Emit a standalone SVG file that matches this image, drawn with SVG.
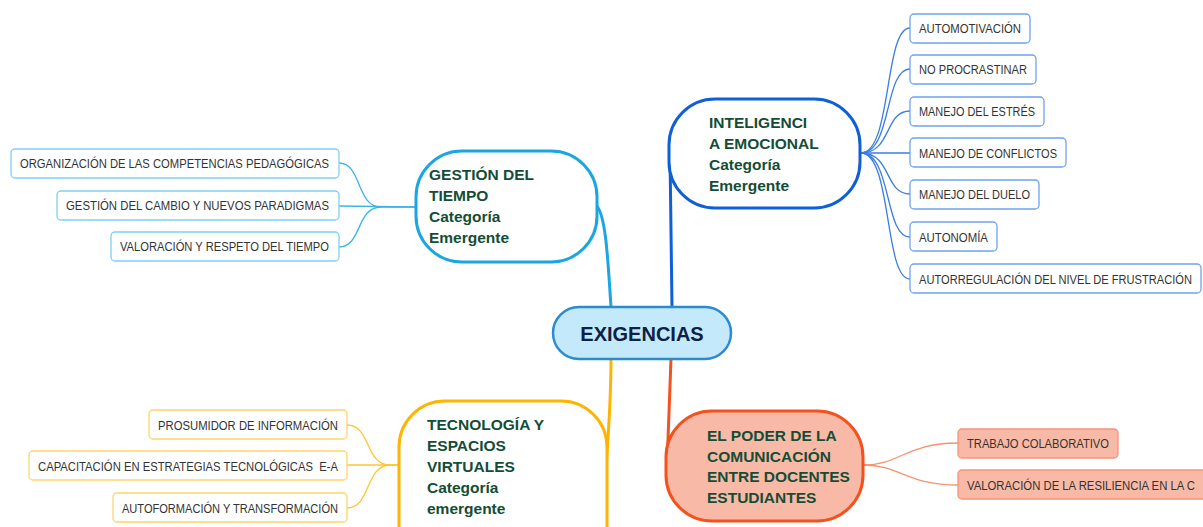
<svg xmlns="http://www.w3.org/2000/svg" width="1203" height="527" viewBox="0 0 1203 527">
<style>
.bg{fill:#ffffff}
.main{stroke-width:3}
.ntext{font-family:"Liberation Sans",Arial,sans-serif;font-size:15.5px;font-weight:bold;fill:#144d36}
.ctext{font-family:"Liberation Sans",Arial,sans-serif;font-size:12.5px;fill:#333333}
.pre{white-space:pre}
.leaf{stroke-width:1.3}
.conn{fill:none;stroke-width:1.3}
.trunk{fill:none;stroke-width:3;stroke-linecap:round}
</style>
<rect class="bg" x="0" y="0" width="1203" height="527"/>

<g id="connectors">
  <path class="trunk" stroke="#1aa6e1" d="M596,205 C606,214 608,262 611,307"/>
  <path class="trunk" stroke="#0f5fd6" d="M670,155 L672,307"/>
  <path class="trunk" stroke="#ffb400" d="M611,359 C611,400 608,440 606,468"/>
  <path class="trunk" stroke="#f4511e" d="M671,359 L667,466"/>
  <g stroke="#3db4e8">
    <path class="conn" d="M339,163 C362,163 356,207 381,207 L416,207"/>
    <path class="conn" d="M339,206 L416,207"/>
    <path class="conn" d="M339,247 C362,247 356,207 381,207"/>
  </g>
  <g stroke="#3a7ee0">
    <path class="conn" d="M861,153 C892,153 884,28 910,28"/>
    <path class="conn" d="M861,153 C892,153 884,69 910,69"/>
    <path class="conn" d="M861,153 C892,153 884,111 910,111"/>
    <path class="conn" d="M861,153 L910,153"/>
    <path class="conn" d="M861,153 C892,153 884,194 910,194"/>
    <path class="conn" d="M861,153 C892,153 884,237 910,237"/>
    <path class="conn" d="M861,153 C892,153 884,279 910,279"/>
  </g>
  <g stroke="#ffc533">
    <path class="conn" d="M347,425 C371,425 365,465 390,465 L399,465"/>
    <path class="conn" d="M347,465 L399,465"/>
    <path class="conn" d="M347,508 C371,508 365,465 390,465"/>
  </g>
  <g stroke="#f7916f">
    <path class="conn" d="M864,465 C900,465 906,443 958,443"/>
    <path class="conn" d="M864,465 C900,465 906,485 958,485"/>
  </g>
</g>

<g id="n-exigencias">
  <rect x="553" y="307" width="178" height="52" rx="26" fill="#c4e9fb" stroke="#2a8bd0" stroke-width="2.5"/>
  <text x="642" y="341" text-anchor="middle" font-family="Liberation Sans,Arial,sans-serif" font-size="20" font-weight="bold" fill="#0d2147">EXIGENCIAS</text>
</g>

<g id="n-gestion">
  <rect class="main" x="416" y="151" width="181" height="111" rx="46" fill="#ffffff" stroke="#1aa6e1"/>
  <text class="ntext" x="429" y="180">GESTIÓN DEL</text>
  <text class="ntext" x="429" y="201">TIEMPO</text>
  <text class="ntext" x="429" y="222">Categoría</text>
  <text class="ntext" x="429" y="243">Emergente</text>
</g>
<g id="g-c1">
  <rect class="leaf" x="11" y="149" width="328" height="29" rx="4" fill="#ffffff" stroke="#7fd0f2"/>
  <text class="ctext" x="20" y="168" textLength="309" lengthAdjust="spacingAndGlyphs">ORGANIZACIÓN DE LAS COMPETENCIAS PEDAGÓGICAS</text>
</g>
<g id="g-c2">
  <rect class="leaf" x="57" y="191" width="282" height="29" rx="4" fill="#ffffff" stroke="#7fd0f2"/>
  <text class="ctext" x="66" y="210" textLength="263" lengthAdjust="spacingAndGlyphs">GESTIÓN DEL CAMBIO Y NUEVOS PARADIGMAS</text>
</g>
<g id="g-c3">
  <rect class="leaf" x="111" y="232" width="228" height="29" rx="4" fill="#ffffff" stroke="#7fd0f2"/>
  <text class="ctext" x="120" y="251" textLength="209" lengthAdjust="spacingAndGlyphs">VALORACIÓN Y RESPETO DEL TIEMPO</text>
</g>

<g id="n-inteligencia">
  <rect class="main" x="669" y="99" width="191" height="109" rx="46" fill="#ffffff" stroke="#0f5fd6"/>
  <text class="ntext" x="709" y="128">INTELIGENCI</text>
  <text class="ntext" x="709" y="149">A EMOCIONAL</text>
  <text class="ntext" x="709" y="170">Categoría</text>
  <text class="ntext" x="709" y="191">Emergente</text>
</g>
<g id="i-c1">
  <rect class="leaf" x="910" y="14" width="120" height="29" rx="4" fill="#ffffff" stroke="#6fa3ee"/>
  <text class="ctext" x="919" y="33" textLength="102" lengthAdjust="spacingAndGlyphs">AUTOMOTIVACIÓN</text>
</g>
<g id="i-c2">
  <rect class="leaf" x="910" y="55" width="126" height="29" rx="4" fill="#ffffff" stroke="#6fa3ee"/>
  <text class="ctext" x="919" y="74" textLength="108" lengthAdjust="spacingAndGlyphs">NO PROCRASTINAR</text>
</g>
<g id="i-c3">
  <rect class="leaf" x="910" y="97" width="134" height="29" rx="4" fill="#ffffff" stroke="#6fa3ee"/>
  <text class="ctext" x="919" y="116" textLength="116" lengthAdjust="spacingAndGlyphs">MANEJO DEL ESTRÉS</text>
</g>
<g id="i-c4">
  <rect class="leaf" x="910" y="138" width="156" height="29" rx="4" fill="#ffffff" stroke="#6fa3ee"/>
  <text class="ctext" x="919" y="158" textLength="138" lengthAdjust="spacingAndGlyphs">MANEJO DE CONFLICTOS</text>
</g>
<g id="i-c5">
  <rect class="leaf" x="910" y="180" width="129" height="29" rx="4" fill="#ffffff" stroke="#6fa3ee"/>
  <text class="ctext" x="919" y="199" textLength="111" lengthAdjust="spacingAndGlyphs">MANEJO DEL DUELO</text>
</g>
<g id="i-c6">
  <rect class="leaf" x="910" y="222" width="87" height="29" rx="4" fill="#ffffff" stroke="#6fa3ee"/>
  <text class="ctext" x="919" y="242" textLength="69" lengthAdjust="spacingAndGlyphs">AUTONOMÍA</text>
</g>
<g id="i-c7">
  <rect class="leaf" x="910" y="264" width="291" height="29" rx="4" fill="#ffffff" stroke="#6fa3ee"/>
  <text class="ctext" x="919" y="284" textLength="273" lengthAdjust="spacingAndGlyphs">AUTORREGULACIÓN DEL NIVEL DE FRUSTRACIÓN</text>
</g>

<g id="n-tecnologia">
  <rect class="main" x="399" y="401" width="208" height="170" rx="46" fill="#ffffff" stroke="#ffb400"/>
  <text class="ntext" x="427" y="430">TECNOLOGÍA Y</text>
  <text class="ntext" x="427" y="451">ESPACIOS</text>
  <text class="ntext" x="427" y="472">VIRTUALES</text>
  <text class="ntext" x="427" y="493">Categoría</text>
  <text class="ntext" x="427" y="514">emergente</text>
</g>
<g id="t-c1">
  <rect class="leaf" x="149" y="410" width="198" height="29" rx="4" fill="#ffffff" stroke="#ffd369"/>
  <text class="ctext" x="158" y="430" textLength="180" lengthAdjust="spacingAndGlyphs">PROSUMIDOR DE INFORMACIÓN</text>
</g>
<g id="t-c2">
  <rect class="leaf" x="29" y="451" width="318" height="29" rx="4" fill="#ffffff" stroke="#ffd369"/>
  <text class="ctext pre" x="38" y="471" xml:space="preserve" textLength="300" lengthAdjust="spacingAndGlyphs">CAPACITACIÓN EN ESTRATEGIAS TECNOLÓGICAS  E-A</text>
</g>
<g id="t-c3">
  <rect class="leaf" x="113" y="493" width="234" height="29" rx="4" fill="#ffffff" stroke="#ffd369"/>
  <text class="ctext" x="122" y="513" textLength="216" lengthAdjust="spacingAndGlyphs">AUTOFORMACIÓN Y TRANSFORMACIÓN</text>
</g>

<g id="n-poder">
  <rect class="main" x="666" y="411" width="197" height="110" rx="46" fill="#f8baa6" stroke="#f4511e"/>
  <text class="ntext" x="707" y="441">EL PODER DE LA</text>
  <text class="ntext" x="707" y="462">COMUNICACIÓN</text>
  <text class="ntext" x="707" y="482">ENTRE DOCENTES</text>
  <text class="ntext" x="707" y="503">ESTUDIANTES</text>
</g>
<g id="p-c1">
  <rect class="leaf" x="958" y="429" width="160" height="29" rx="4" fill="#f8baa6" stroke="#f7927a"/>
  <text class="ctext" x="967" y="448" textLength="142" lengthAdjust="spacingAndGlyphs">TRABAJO COLABORATIVO</text>
</g>
<g id="p-c2">
  <rect class="leaf" x="958" y="470" width="260" height="29" rx="4" fill="#f8baa6" stroke="#f7927a"/>
  <text class="ctext" x="967" y="490" textLength="228" lengthAdjust="spacingAndGlyphs">VALORACIÓN DE LA RESILIENCIA EN LA C</text>
</g>
</svg>
